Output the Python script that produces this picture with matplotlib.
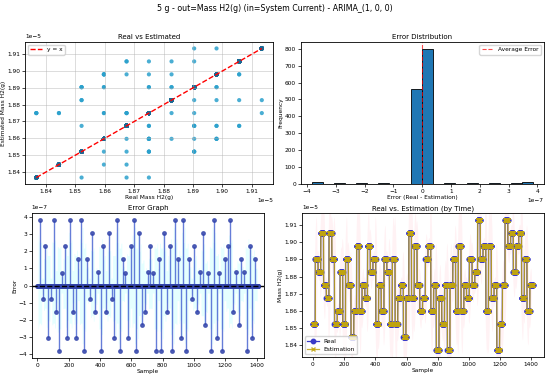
import matplotlib
matplotlib.use("Agg")
import matplotlib.pyplot as plt
import numpy as np
import pandas as pd

title = '5 g - out=Mass H2(g) (in=System Current) - ARIMA_(1, 0, 0)'

# mass grid levels (x1e-5)
levels = [1.8367, 1.8444, 1.8521, 1.8597, 1.8674, 1.8750,
          1.8827, 1.8904, 1.8980, 1.9057, 1.9134]

# plateau sequence (index into levels)
plateaus = [2, 7, 6, 9, 5, 4, 9, 7, 2, 3,
            6, 2, 7, 5, 1, 3, 8, 3, 5, 4,
            8, 6, 7, 2, 5, 3, 7, 6, 2, 7,
            2, 4, 5, 1, 4, 9, 4, 8, 5, 3,
            4, 7, 8, 3, 5, 0, 4, 2, 5, 0,
            5, 7, 3, 8, 3, 5, 4, 7, 5, 6,
            10, 7, 8, 3, 8, 4, 5, 0, 2, 5,
            10, 8, 9, 6, 8, 9, 4, 7, 3, 5]
n_samples = 1412
first_change = 15
last_change = 1391

# histogram counts (20 bins)
hist_counts = [12, 0, 5, 0, 3, 0, 3, 0, 0, 560,
               800, 0, 3, 0, 5, 0, 5, 0, 3, 10]

changes = np.round(np.linspace(first_change, last_change, len(plateaus) - 1)).astype(int)
bounds = np.concatenate([[0], changes, [n_samples]])
lens = np.diff(bounds)
real = np.repeat(np.array(levels)[plateaus], lens) * 1e-5
est = np.concatenate([[real[0]], real[:-1]])
error = real - est
samples = np.arange(n_samples)

plt.rcParams['font.size'] = 4.2
plt.rcParams['axes.titlesize'] = 5
plt.rcParams['axes.linewidth'] = 0.6
plt.rcParams['xtick.major.width'] = 0.5
plt.rcParams['ytick.major.width'] = 0.5
plt.rcParams['xtick.major.size'] = 2
plt.rcParams['ytick.major.size'] = 2
plt.rcParams['xtick.major.pad'] = 1.5
plt.rcParams['ytick.major.pad'] = 1.5

fig = plt.figure(figsize=(5.5, 3.79), dpi=100)
fig.suptitle(title, fontsize=5.7, y=0.99)

ax1 = fig.add_axes([0.0455, 0.5145, 0.451, 0.3747])
ax2 = fig.add_axes([0.547, 0.5145, 0.4418, 0.3747])
ax3 = fig.add_axes([0.058, 0.0554, 0.4218, 0.3826])
ax4 = fig.add_axes([0.549, 0.058, 0.44, 0.38])

# Real vs Estimated
diag = error == 0
ax1.scatter(real[~diag], est[~diag], s=9, color='#2aa0cc', alpha=0.85, edgecolors='none')
ax1.scatter(real[diag], est[diag], s=9, color='#1a6a95', edgecolors='none')
lo, hi = real.min(), real.max()
ax1.plot([lo, hi], [lo, hi], 'r--', lw=1, label='y = x')
ax1.set_title('Real vs Estimated', pad=2)
ax1.set_xlabel('Real Mass H2(g)', labelpad=0.5)
ax1.set_ylabel('Estimated Mass H2(g)', labelpad=1)
ax1.grid(True, lw=0.5, alpha=0.6)
ax1.legend(loc='upper left', fontsize=4.2)

# Error Distribution
edges = np.linspace(error.min(), error.max(), len(hist_counts) + 1)
ax2.bar(edges[:-1], hist_counts, width=np.diff(edges), align='edge',
        color='#1f77b4', edgecolor='black', linewidth=0.6)
ax2.axvline(error.mean(), color='red', ls='--', lw=0.8, alpha=0.7, label='Average Error')
ax2.set_title('Error Distribution', pad=2)
ax2.set_xlabel('Error (Real - Estimation)', labelpad=0.5)
ax2.set_ylabel('Frequency', labelpad=1)
ax2.legend(loc='upper right', fontsize=4.2)

# Error Graph
ml, sl, bl = ax3.stem(samples, error, linefmt='-', markerfmt='o', basefmt=' ')
plt.setp(sl, color='#3352cc', lw=1, alpha=0.75)
plt.setp(ml, color='#3344aa', ms=2.5, alpha=0.8)
ax3.axhline(0, color='black', ls='--', lw=1, zorder=3)
ax3.margins(x=0.025)
ylim3 = ax3.get_ylim()
roll = pd.Series(error).rolling(24, center=True, min_periods=1)
band_mid = roll.mean().to_numpy()
band_sd = roll.std().fillna(0).to_numpy()
ax3.fill_between(samples, band_mid - 3 * band_sd, band_mid + 3 * band_sd,
                 color='cyan', alpha=0.1, lw=0, zorder=0)
ax3.set_ylim(ylim3)
ax3.set_title('Error Graph', pad=2)
ax3.set_xlabel('Sample', labelpad=0.5)
ax3.set_ylabel('Error', labelpad=1)

# Real vs. Estimation (by Time)
ax4.plot(samples, real, color='#3a3ac8', marker='o', ms=3.2, lw=0.9, label='Real')
ax4.plot(samples, est, color='#c0a410', marker='x', ms=2.5, lw=0.9, alpha=0.85, label='Estimation')
ylim4 = ax4.get_ylim()
roll_e = pd.Series(est).rolling(20, center=True, min_periods=1)
e_mid = roll_e.mean().to_numpy()
e_sd = roll_e.std().fillna(0).to_numpy()
ax4.fill_between(samples, e_mid - 2 * e_sd, e_mid + 2 * e_sd, color='pink',
                 alpha=0.2, lw=0, zorder=0)
ax4.set_ylim(ylim4)
ax4.set_title('Real vs. Estimation (by Time)', pad=2)
ax4.set_xlabel('Sample', labelpad=0.5)
ax4.set_ylabel('Mass H2(g)', labelpad=1)
ax4.legend(loc='lower left', fontsize=4.2)

fig.savefig('out.png', dpi=100)
